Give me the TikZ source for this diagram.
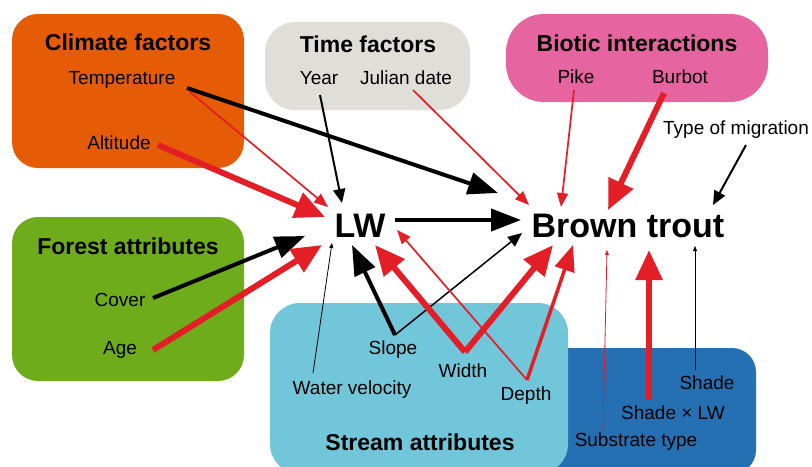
\documentclass[tikz,border=0pt]{standalone}
\usepackage{fontspec}
\setmainfont{Liberation Sans}
\usepackage{xcolor}
\usepackage{tikz}
\usetikzlibrary{
    arrows.meta
}
\definecolor{climatecol}{RGB}{230,92,6}
\definecolor{timecol}{RGB}{224,222,217}
\definecolor{bioticcol}{RGB}{230,100,160}
\definecolor{forestcol}{RGB}{110,172,28}
\definecolor{streamcol}{RGB}{114,198,218}
\definecolor{shadecol}{RGB}{36,112,178}
\definecolor{arrowred}{RGB}{228,30,38}
\tikzstyle{itemtext} = [
    font=\fontsize{9.5}{11}\selectfont,
    inner sep=1pt
]
\tikzstyle{boxtitle} = [
    font=\bfseries\fontsize{11.5}{13}\selectfont,
    inner sep=1pt
]
\tikzstyle{bigtext} = [
    font=\bfseries\fontsize{17}{20}\selectfont,
    inner sep=1pt
]
\tikzstyle{redwide} = [
    draw=arrowred,
    line width=3pt,
    -{Triangle[length=15pt,width=13pt]}
]
\tikzstyle{redmid} = [
    draw=arrowred,
    line width=1.75pt,
    -{Triangle[length=13pt,width=10pt]}
]
\tikzstyle{redthin} = [
    draw=arrowred,
    line width=0.85pt,
    -{Triangle[length=7pt,width=5.5pt]}
]
\tikzstyle{redhair} = [
    draw=arrowred,
    line width=0.4pt,
    -{Triangle[length=2.5pt,width=2pt]}
]
\tikzstyle{blackwide} = [
    draw=black,
    line width=2pt,
    -{Triangle[length=15pt,width=11pt]}
]
\tikzstyle{blackthin} = [
    draw=black,
    line width=1pt,
    -{Triangle[length=7pt,width=6pt]}
]
\tikzstyle{blackhair} = [
    draw=black,
    line width=0.4pt,
    -{Triangle[length=2.5pt,width=2pt]}
]

\begin{document}
\begin{tikzpicture}[x=0.5pt,y=-0.5pt]
\useasboundingbox (0,0) rectangle (812,466);
\clip (0,0) rectangle (812,466);

\fill[climatecol, rounded corners=13pt] (12,14) rectangle (244,168);
\fill[timecol, rounded corners=15pt] (265,22) rectangle (470,110);
\fill[bioticcol, rounded corners=19pt] (506,14) rectangle (768,102);
\fill[forestcol, rounded corners=13pt] (12,217) rectangle (244,381);
\fill[shadecol, rounded corners=12pt] (540,348) rectangle (756,474);
\fill[streamcol, rounded corners=15pt] (270,303) rectangle (568,474);

\node[boxtitle]  (climate)   at (128,42)  {Climate factors};
\node[itemtext]  (temp)      at (122,80)  {Temperature};
\node[itemtext]  (alt)       at (119,143) {Altitude};
\node[boxtitle]  (time)      at (368,44)  {Time factors};
\node[itemtext]  (year)      at (319,78)  {Year};
\node[itemtext]  (julian)    at (406,78)  {Julian date};
\node[boxtitle]  (biotic)    at (637,43)  {Biotic interactions};
\node[itemtext]  (pike)      at (576,77)  {Pike};
\node[itemtext]  (burbot)    at (680,77)  {Burbot};
\node[itemtext]  (migration) at (736,130) {Type of migration};
\node[boxtitle]  (forest)    at (128,246) {Forest attributes};
\node[itemtext]  (cover)     at (120,300) {Cover};
\node[itemtext]  (age)       at (120,350) {Age};
\node[bigtext]   (lw)        at (360,226) {LW};
\node[bigtext]   (trout)     at (628,226) {Brown trout};
\node[itemtext]  (slope)     at (393,350) {Slope};
\node[itemtext]  (velocity)  at (352,390) {Water velocity};
\node[itemtext]  (width)     at (463,371) {Width};
\node[itemtext]  (depth)     at (526,396) {Depth};
\node[boxtitle]  (stream)    at (420,442) {Stream attributes};
\node[itemtext]  (shade)     at (707,383) {Shade};
\node[itemtext]  (shadelw)   at (673,413) {Shade × LW};
\node[itemtext]  (substrate) at (636,442) {Substrate type};

\draw[blackwide] ([shift={(65,8)}]temp.center)   -- ([shift={(-130,-33)}]trout.center);
\draw[redthin]   ([shift={(68,12)}]temp.center)  -- ([shift={(-32,-19)}]lw.center);
\draw[blackthin] ([shift={(1,17)}]year.center)   -- ([shift={(-18,-23)}]lw.center);
\draw[redwide]   ([shift={(39,2)}]alt.center)    -- ([shift={(-35,-9)}]lw.center);
\draw[redthin]   ([shift={(7,12)}]julian.center) -- ([shift={(-99,-21)}]trout.center);
\draw[redthin]   ([shift={(-2,13)}]pike.center)  -- ([shift={(-67,-19)}]trout.center);
\draw[redwide]   ([shift={(-16,16)}]burbot.center) -- ([shift={(-20,-16)}]trout.center);
\draw[blackthin] ([shift={(10,15)}]migration.center) -- ([shift={(85,-21)}]trout.center);
\draw[blackwide] ([shift={(35,-6)}]lw.center)    -- ([shift={(-107,-6)}]trout.center);
\draw[blackwide] ([shift={(33,-2)}]cover.center) -- ([shift={(-55,10)}]lw.center);
\draw[redwide]   ([shift={(33,0)}]age.center)    -- ([shift={(-38,19)}]lw.center);
\draw[blackhair] ([shift={(-39,-17)}]velocity.center) -- ([shift={(-28,17)}]lw.center);
\draw[blackwide] ([shift={(2,-15)}]slope.center) -- ([shift={(-8,19)}]lw.center);
\draw[blackthin, line width=0.75pt] ([shift={(2,-15)}]slope.center) -- ([shift={(-106,7)}]trout.center);
\draw[redwide]   ([shift={(2,-19)}]width.center) -- ([shift={(15,19)}]lw.center);
\draw[redwide]   ([shift={(2,-19)}]width.center) -- ([shift={(-75,19)}]trout.center);
\draw[redthin]   ([shift={(1,-16)}]depth.center) -- ([shift={(37,4)}]lw.center);
\draw[redmid]    ([shift={(1,-16)}]depth.center) -- ([shift={(-55,19)}]trout.center);
\draw[redhair]   ([shift={(-33,-12)}]substrate.center) -- ([shift={(-21,24)}]trout.center);
\draw[redwide]   ([shift={(-24,-13)}]shadelw.center) -- ([shift={(21,24)}]trout.center);
\draw[blackhair] ([shift={(-12,-13)}]shade.center) -- ([shift={(67,20)}]trout.center);
\end{tikzpicture}
\end{document}
